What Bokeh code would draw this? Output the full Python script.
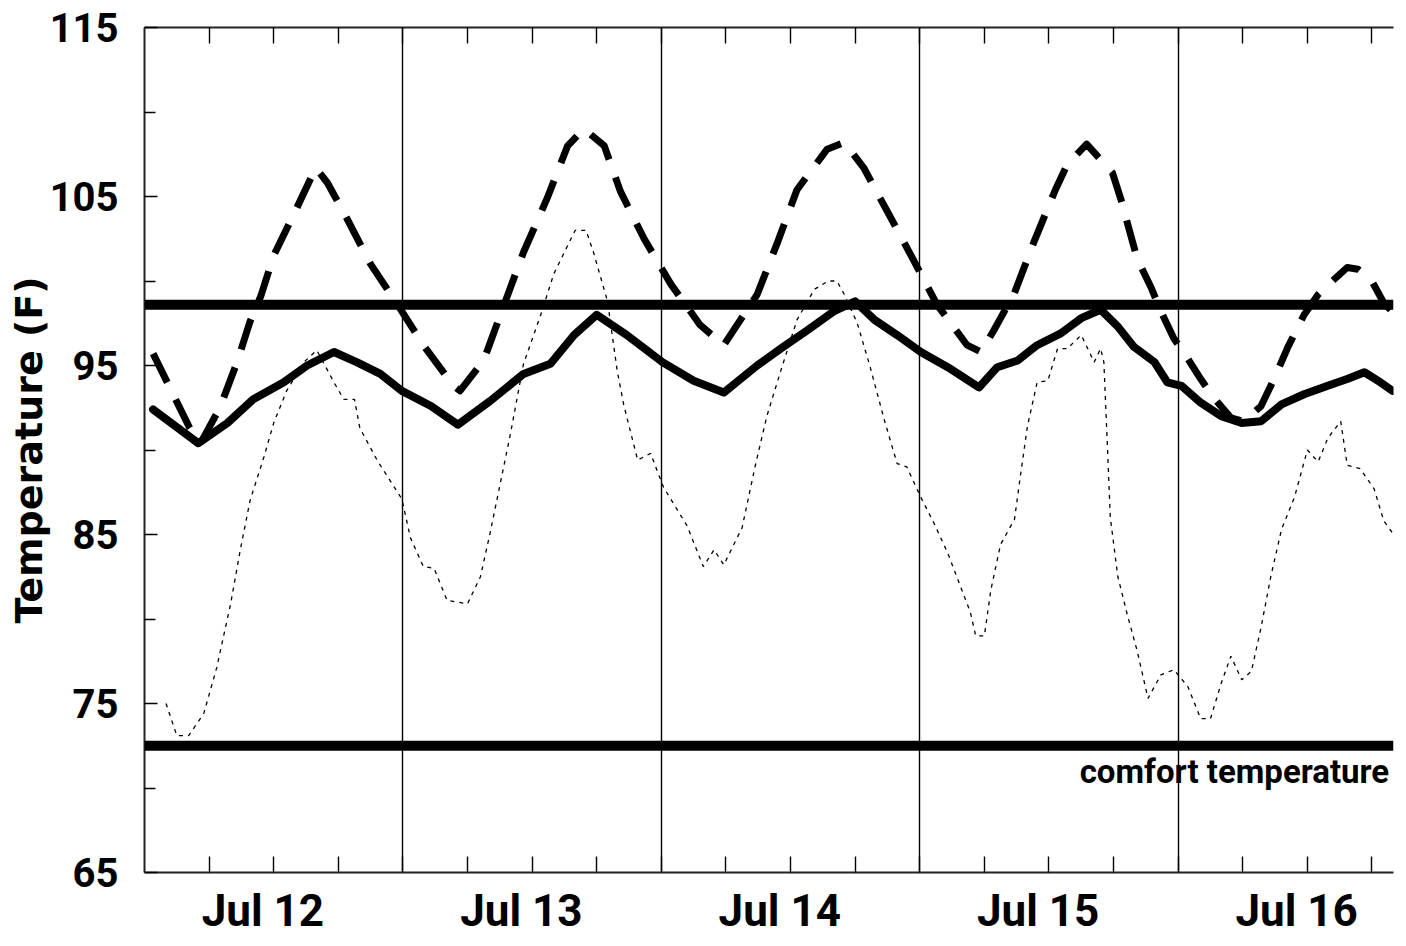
from bokeh.plotting import figure
from bokeh.models import FixedTicker, LinearAxis, Span, Label, Range1d
from bokeh.embed import file_html
from bokeh.resources import INLINE

# ---------------- data (hours since Jul 12 00:00, temperature in F) ----------------
indoor_hours = [0.8, 5.0, 7.7, 10.1, 12.9, 15.1, 17.6, 19.7, 21.9, 23.9, 26.6, 29.1, 32.1, 35.2,
                37.7, 39.9, 42.0, 44.8, 48.1, 51.0, 53.8, 56.9, 59.1, 61.6, 64.0, 66.0, 67.8,
                69.9, 72.1, 74.6, 77.5, 79.2, 81.1, 82.9, 85.1, 87.0, 88.8, 90.4, 91.9, 93.8,
                95.0, 96.3, 98.1, 100.0, 101.9, 103.7, 105.6, 107.7, 109.9, 111.7, 113.3, 114.8, 115.9]
indoor_temp = [92.4, 90.4, 91.6, 93.0, 94.0, 95.0, 95.8, 95.2, 94.5, 93.5, 92.6, 91.5, 92.9, 94.5,
               95.1, 96.8, 98.0, 96.8, 95.2, 94.1, 93.4, 95.0, 96.0, 97.1, 98.2, 98.8, 97.7,
               96.8, 95.8, 94.9, 93.7, 94.9, 95.3, 96.2, 96.9, 97.8, 98.3, 97.3, 96.1, 95.2,
               94.0, 93.8, 92.8, 92.0, 91.6, 91.7, 92.7, 93.3, 93.8, 94.2, 94.6, 94.0, 93.5]

attic_hours = [0.8, 4.2, 5.2, 7.0, 8.6, 9.8, 10.8, 12.0, 14.2, 15.9, 17.0, 18.8, 21.0, 23.5,
               25.9, 28.7, 29.3, 31.5, 33.4, 35.2, 37.4, 39.3, 40.8, 42.7, 44.2, 46.4, 48.9,
               51.6, 53.8, 56.9, 58.8, 60.6, 63.4, 65.0, 66.8, 69.0, 71.2, 73.6, 76.4, 77.7,
               78.9, 80.8, 82.6, 84.6, 85.7, 87.5, 89.9, 90.7, 91.6, 92.2, 93.5, 94.4, 95.6,
               96.6, 98.1, 99.3, 100.9, 102.1, 103.7, 104.9, 106.2, 107.7, 109.0, 110.5, 111.7,
               112.7, 113.9, 115.1, 115.9]
attic_temp = [95.7, 91.3, 90.4, 92.5, 95.2, 97.6, 99.1, 101.5, 104.4, 106.7, 105.8, 103.7, 101.0, 98.6,
              96.2, 93.8, 93.5, 95.3, 98.6, 101.7, 104.9, 108.0, 109.0, 108.0, 105.3, 102.5, 99.8,
              97.4, 96.2, 99.2, 102.3, 105.4, 107.8, 108.2, 106.7, 104.1, 101.5, 98.6, 96.2, 95.8,
              97.1, 99.3, 102.3, 105.4, 106.9, 108.1, 106.4, 104.8, 102.7, 101.3, 99.6, 98.2, 96.6,
              95.7, 94.2, 93.1, 91.9, 91.7, 92.6, 94.2, 96.1, 98.0, 99.2, 100.1, 100.8,
              100.7, 100.1, 98.7, 98.2]

outdoor_hours = [2.0, 3.0, 4.1, 5.5, 6.7, 8.0, 8.9, 9.8, 11.1, 12.0, 13.2, 14.8, 16.0, 17.6, 18.5,
                 19.5, 20.0, 21.6, 23.9, 24.7, 25.9, 26.9, 28.1, 30.0, 31.2, 32.1, 33.1, 34.0,
                 35.2, 36.8, 38.0, 39.3, 40.0, 41.0, 41.7, 43.0, 43.9, 44.5, 45.8, 47.0, 48.2,
                 50.4, 51.9, 52.9, 53.8, 55.5, 56.7, 57.8, 59.1, 60.6, 62.2, 63.5, 64.3, 65.0,
                 66.2, 67.4, 68.7, 69.9, 70.8, 72.1, 73.3, 74.6, 75.8, 76.7, 77.2, 78.0, 78.6,
                 79.5, 80.8, 81.4, 82.0, 82.9, 83.9, 84.8, 85.7, 87.0, 88.2, 88.8, 89.1, 89.4,
                 89.7, 90.4, 91.3, 92.2, 93.2, 94.4, 95.6, 96.9, 98.1, 99.0, 100.0, 100.9, 101.9,
                 102.8, 103.7, 104.6, 105.6, 106.8, 108.0, 109.0, 109.9, 111.1, 111.7, 112.9,
                 114.2, 115.1, 115.9]
outdoor_temp = [75.0, 73.1, 73.1, 74.4, 77.1, 80.9, 84.1, 87.0, 89.6, 91.6, 93.5, 95.2, 95.9, 94.0, 93.0,
                93.0, 91.3, 89.4, 87.1, 84.8, 83.1, 83.0, 81.1, 80.9, 82.5, 85.1, 88.2, 91.0,
                95.1, 98.0, 100.4, 102.1, 103.0, 103.0, 101.7, 98.8, 94.7, 92.7, 89.4, 89.8, 87.8,
                85.5, 83.1, 84.1, 83.2, 85.4, 89.0, 92.0, 94.7, 97.7, 99.5, 100.0, 100.0, 99.2,
                97.5, 94.9, 91.8, 89.2, 89.0, 87.2, 85.7, 83.9, 81.9, 80.4, 79.0, 79.0, 81.7,
                84.4, 85.9, 88.7, 91.4, 94.0, 94.1, 96.0, 96.0, 96.8, 95.2, 96.0, 95.2, 90.7,
                86.0, 82.5, 80.2, 78.1, 75.3, 76.7, 77.0, 76.0, 74.1, 74.1, 76.2, 77.8, 76.4,
                76.9, 79.5, 82.5, 85.3, 87.2, 90.0, 89.3, 90.7, 91.7, 89.1, 88.9,
                87.7, 85.8, 85.1]

BODY_TEMP = 98.6
COMFORT_TEMP = 72.5
COMFORT_TEXT = "comfort temperature"

day_labels = ["Jul 12", "Jul 13", "Jul 14", "Jul 15", "Jul 16"]
day_label_hours = [11, 35, 59, 83, 107]
day_boundaries = [24, 48, 72, 96]
six_hour_ticks = [h for h in range(6, 117, 6)]
y_label_ticks = [65, 75, 85, 95, 105, 115]
y_minor_ticks = [70, 80, 90, 100, 110]
X_MAX = 116.0

TICK_FONT = "Roboto"

p = figure(frame_width=1249, frame_height=845,
           x_range=Range1d(0, X_MAX), y_range=Range1d(65, 115),
           output_backend="svg", toolbar_location=None,
           min_border_left=144, min_border_top=27, min_border_right=5, min_border_bottom=66,
           background_fill_color="white", border_fill_color="white")
p.outline_line_color = None

# grid: only vertical lines at day boundaries
p.ygrid.visible = False
p.xgrid.ticker = FixedTicker(ticks=day_boundaries)
p.xgrid.grid_line_color = "black"
p.xgrid.grid_line_width = 1.4

# bottom axis
xa = p.xaxis[0]
xa.ticker = FixedTicker(ticks=day_label_hours, minor_ticks=six_hour_ticks)
xa.major_label_overrides = {h: lab for h, lab in zip(day_label_hours, day_labels)}
xa.major_tick_in = 0
xa.major_tick_out = 0
xa.minor_tick_in = 16
xa.minor_tick_out = 0
xa.minor_tick_line_width = 1.4
xa.minor_tick_line_color = "black"
xa.axis_line_width = 2
xa.axis_line_color = "#222222"
xa.major_label_text_font = TICK_FONT
xa.major_label_text_font_style = "bold"
xa.major_label_text_font_size = "44px"
xa.major_label_text_color = "black"
xa.major_label_standoff = 12

# top axis (ticks only)
top = LinearAxis(ticker=FixedTicker(ticks=six_hour_ticks),
                 major_tick_in=16, major_tick_out=0, major_tick_line_width=1.4,
                 axis_line_width=2, axis_line_color="#222222",
                 major_label_text_font_size="0px", major_label_standoff=0)
top.major_label_overrides = {h: "" for h in six_hour_ticks}
p.add_layout(top, "above")

# left axis
ya = p.yaxis[0]
ya.ticker = FixedTicker(ticks=y_label_ticks, minor_ticks=y_minor_ticks)
ya.major_tick_in = 13
ya.major_tick_out = 0
ya.minor_tick_in = 11
ya.minor_tick_out = 0
ya.major_tick_line_width = 1.4
ya.minor_tick_line_width = 1.4
ya.minor_tick_line_color = "black"
ya.axis_line_width = 2
ya.axis_line_color = "#222222"
ya.major_label_text_font = TICK_FONT
ya.major_label_text_font_style = "bold"
ya.major_label_text_font_size = "40px"
ya.major_label_text_color = "black"
ya.major_label_standoff = 26
ya.axis_label = "Temperature (F)"
ya.axis_label_text_font = "DejaVu Sans"
ya.axis_label_text_font_style = "bold"
ya.axis_label_text_font_size = "38px"
ya.axis_label_text_color = "black"
ya.axis_label_standoff = -4

# reference levels
p.add_layout(Span(location=BODY_TEMP, dimension="width", line_color="black", line_width=10))
p.add_layout(Span(location=COMFORT_TEMP, dimension="width", line_color="black", line_width=10))

# series
p.line(outdoor_hours, outdoor_temp, line_color="black", line_width=1.3, line_dash="4 5")
p.line(attic_hours, attic_temp, line_color="black", line_width=7, line_dash="32 19", line_join="round")
p.line(indoor_hours, indoor_temp, line_color="black", line_width=8, line_join="round", line_cap="round")

p.add_layout(Label(x=115.6, y=71.0, text=COMFORT_TEXT, text_align="right",
                   text_baseline="alphabetic", text_font=TICK_FONT, text_font_style="bold",
                   text_font_size="33px", text_color="black"))

open("out.html", "w").write(file_html(p, INLINE))
